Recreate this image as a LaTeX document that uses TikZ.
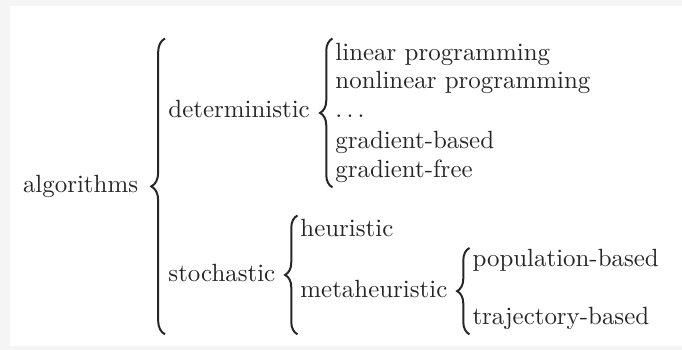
\documentclass[tikz,border=0pt]{standalone}
\usepackage{tikz}
\usetikzlibrary{decorations.pathreplacing,calc}

\begin{document}
\begin{tikzpicture}[
  every node/.style={inner sep=0pt, anchor=base west, text=black!85},
  brc/.style={decorate, decoration={brace, amplitude=5pt}, line width=0.8pt, black!85},
]

% frame
\fill[gray!8] (0,0) rectangle (9.626,-4.94);
\fill[white] (0.141,-0.085) rectangle (9.626,-4.883);

\node (alg)  at (0.318,-2.724) {algorithms};
\node (det)  at (2.371,-1.665) {deterministic};
\node (sto)  at (2.371,-3.980) {stochastic};

\node (lin)  at (4.728,-0.847) {linear programming};
\node (non)  at (4.728,-1.256) {nonlinear programming};
\node (dts)  at (4.728,-1.665) {.\,.\,.};
\node (gb)   at (4.728,-2.089) {gradient-based};
\node (gf)   at (4.728,-2.512) {gradient-free};

\node (heur) at (4.234,-3.345) {heuristic};
\node (meta) at (4.234,-4.192) {metaheuristic};
\node (pop)  at (6.662,-3.768) {population-based};
\node (traj) at (6.662,-4.587) {trajectory-based};

\coordinate (b2top) at ([xshift=-1pt,yshift=1.5pt]lin.north west);
\coordinate (b2bot) at ([xshift=-1pt,yshift=-1.5pt]gf.south west);
\coordinate (b3top) at ([xshift=-1pt,yshift=1.5pt]heur.north west);
\coordinate (b3bot) at ([xshift=-1pt,yshift=-1.5pt]meta.west |- traj.south);

\draw[brc, decoration={amplitude=5.5pt}] ([xshift=-1.2pt]det.west |- b3bot) -- ([xshift=-1.2pt]det.west |- b2top);
\draw[brc] (b2bot) -- (b2top);
\draw[brc] (b3bot) -- (b3top);
\draw[brc] ([xshift=-1pt,yshift=-1.5pt]traj.south west) -- ([xshift=-1pt,yshift=0.5pt]pop.north west);

\end{tikzpicture}
\end{document}
